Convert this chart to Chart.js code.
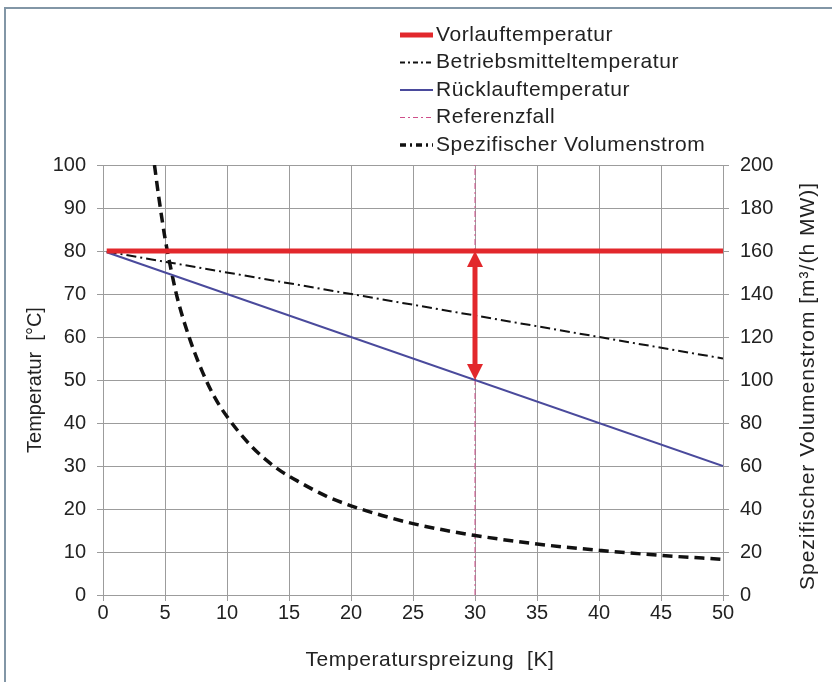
<!DOCTYPE html>
<html lang="de">
<head>
  <meta charset="UTF-8" />
  <title>Temperaturspreizung</title>
  <script src="https://cdn.jsdelivr.net/npm/chart.js"></script>
  <style>
    body { margin: 0; background: #fff; }
    .wrap { position: relative; width: 832px; height: 682px; }
    .frame {
      position: absolute; left: 4px; top: 7px; right: 0; bottom: 0;
      border-left: 2px solid #8296a6; border-top: 2px solid #8296a6;
      pointer-events: none;
    }
  </style>
</head>
<body>
  <div class="wrap">
    <canvas id="chart" width="832" height="682"></canvas>
    <div class="frame"></div>
  </div>

  <script>
    // Temperaturspreizung [K] on x, temperatures on left axis, flow on right axis
    var spreadX = [0.3, 50];
    var vorlauf = [80, 80];
    var betriebsmittel = [79.85, 55];
    var ruecklauf = [79.7, 30];

    // Referenzfall at 30 K
    var refX = [30, 30];
    var refY = [0, 100];

    // Spezifischer Volumenstrom
    var flowX = [4.15, 4.5, 5, 5.5, 6, 7, 8, 9, 10, 12, 14, 16, 18, 20, 22.5, 25, 27.5, 30, 35, 40, 45, 50];
    var flowY = [200, 185, 166, 151, 138, 119, 104, 92, 83, 69, 59, 52, 46, 41.5, 37, 33.2, 30.2, 27.7, 23.7, 20.8, 18.4, 16.6];

    // double arrow between Vorlauf and Rücklauf at the reference case
    var arrowX = 30;
    var arrowTop = 80;
    var arrowBottom = 50;

    var legendLabels = ['Vorlauftemperatur', 'Betriebsmitteltemperatur', 'Rücklauftemperatur', 'Referenzfall', 'Spezifischer Volumenstrom'];

    var FONT = '"Liberation Sans", Arial, Helvetica, sans-serif';
    var TEXT = '#222';
    var GRID = '#9c9c9c';

    function pts(xs, ys) {
      return xs.map(function (x, i) { return { x: x, y: ys[i] }; });
    }

    var datasets = [
      { label: legendLabels[0], data: pts(spreadX, vorlauf), borderColor: '#e2282c', borderWidth: 5, order: 1 },
      { label: legendLabels[1], data: pts(spreadX, betriebsmittel), borderColor: '#111', borderWidth: 2, borderDash: [10, 4, 2, 4], order: 3 },
      { label: legendLabels[2], data: pts(spreadX, ruecklauf), borderColor: '#4a4a9c', borderWidth: 2, order: 2 },
      { label: legendLabels[3], data: pts(refX, refY), borderColor: '#cf4f8a', borderWidth: 1, borderDash: [6, 3, 2, 3], order: 5 },
      { label: legendLabels[4], data: pts(flowX, flowY), borderColor: '#111', borderWidth: 3.5, borderDash: [10, 6], cubicInterpolationMode: 'monotone', yAxisID: 'y2', order: 4 }
    ];
    datasets.forEach(function (d) {
      d.showLine = true;
      d.pointRadius = 0;
      d.fill = false;
    });

    var extras = {
      id: 'extras',
      afterDatasetsDraw: function (chart) {
        var ctx = chart.ctx;
        var x = chart.scales.x, y = chart.scales.y;
        var px = x.getPixelForValue(arrowX);
        var top = y.getPixelForValue(arrowTop);
        var bot = y.getPixelForValue(arrowBottom);
        var head = 16, half = 8;
        ctx.save();
        ctx.strokeStyle = '#e2282c';
        ctx.fillStyle = '#e2282c';
        ctx.lineWidth = 5;
        ctx.beginPath();
        ctx.moveTo(px, top + head - 2);
        ctx.lineTo(px, bot - head + 2);
        ctx.stroke();
        ctx.beginPath();
        ctx.moveTo(px, top);
        ctx.lineTo(px - half, top + head);
        ctx.lineTo(px + half, top + head);
        ctx.closePath();
        ctx.fill();
        ctx.beginPath();
        ctx.moveTo(px, bot);
        ctx.lineTo(px - half, bot - head);
        ctx.lineTo(px + half, bot - head);
        ctx.closePath();
        ctx.fill();
        ctx.restore();
      },
      afterDraw: function (chart) {
        var ctx = chart.ctx;
        ctx.save();
        ctx.fillStyle = TEXT;
        ctx.font = '21px ' + FONT;
        ctx.textBaseline = 'middle';
        ctx.letterSpacing = '0.6px';

        // x title
        ctx.textAlign = 'center';
        ctx.fillText('Temperaturspreizung  [K]', 430, 660);

        // right title, reads bottom to top
        ctx.save();
        ctx.letterSpacing = '1px';
        ctx.translate(808, 386);
        ctx.rotate(-Math.PI / 2);
        ctx.fillText('Spezifischer Volumenstrom [m³/(h MW)]', 0, 0);
        ctx.restore();

        // legend
        var rowY = [35, 62.5, 90, 117.5, 145];
        chart.data.datasets.forEach(function (d, i) {
          var yy = rowY[i];
          ctx.save();
          ctx.strokeStyle = d.borderColor;
          ctx.lineWidth = d.borderWidth;
          ctx.setLineDash(i === 1 || i === 3 ? [5, 3, 2, 3] : i === 4 ? [6, 4, 2, 4] : []);
          ctx.beginPath();
          ctx.moveTo(400, yy);
          ctx.lineTo(433, yy);
          ctx.stroke();
          ctx.restore();
          ctx.textAlign = 'left';
          ctx.fillText(d.label, 436, yy);
        });
        ctx.restore();
      }
    };

    new Chart(document.getElementById('chart'), {
      type: 'scatter',
      data: { datasets: datasets },
      options: {
        responsive: false,
        animation: false,
        events: [],
        layout: { padding: { top: 165, left: 0, right: 0, bottom: 0 } },
        plugins: { legend: { display: false }, tooltip: { enabled: false } },
        scales: {
          x: {
            type: 'linear', min: 0, max: 50,
            ticks: { stepSize: 5, color: TEXT, font: { family: FONT, size: 20 }, padding: 0, maxRotation: 0 },
            grid: { color: GRID, tickLength: 6 },
            border: { color: GRID },
            afterFit: function (s) { s.height = 87; }
          },
          y: {
            position: 'left', min: 0, max: 100,
            ticks: { stepSize: 10, color: TEXT, font: { family: FONT, size: 20 }, padding: 11 },
            grid: { color: GRID, tickLength: 6 },
            border: { color: GRID },
            title: { display: true, text: 'Temperatur  [°C]', color: TEXT, font: { family: FONT, size: 20 }, padding: { top: 23 } },
            afterFit: function (s) { s.width = 103; }
          },
          y2: {
            position: 'right', min: 0, max: 200,
            ticks: { stepSize: 20, color: TEXT, font: { family: FONT, size: 20 }, padding: 11 },
            grid: { color: GRID, tickLength: 6, drawOnChartArea: false },
            border: { color: GRID },
            afterFit: function (s) { s.width = 109; }
          }
        }
      },
      plugins: [extras]
    });
  </script>
</body>
</html>
